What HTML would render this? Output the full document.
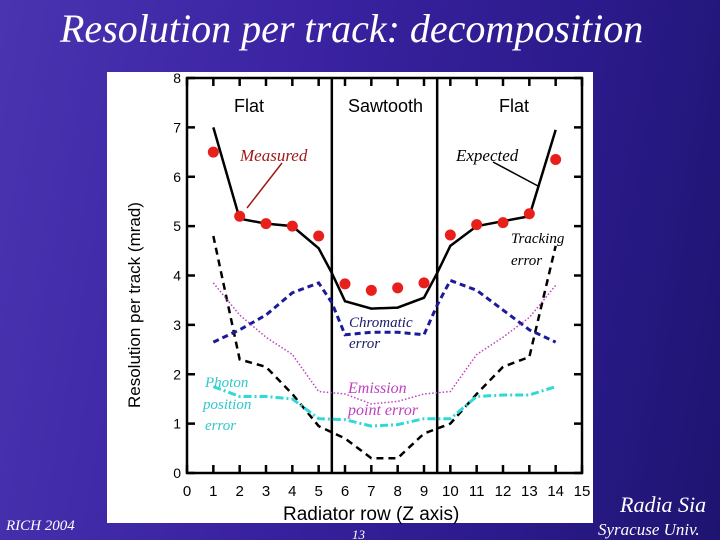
<!DOCTYPE html>
<html><head><meta charset="utf-8"><style>
html,body{margin:0;padding:0;width:720px;height:540px;overflow:hidden}
body{background:linear-gradient(100deg,#4a34b0 0%,#3a22a0 40%,#2a1a8a 75%,#1e1470 100%);position:relative;font-family:"Liberation Serif",serif}
.t{position:absolute;color:#fff;font-style:italic}
</style></head><body>
<div class="t" style="left:60px;top:5px;font-size:40px;">Resolution per track: decomposition</div>
<div class="t" style="left:6px;top:518px;font-size:15px;">RICH 2004</div>
<div class="t" style="left:352px;top:527px;font-size:13px;">13</div>
<div class="t" style="left:620px;top:492px;font-size:22px;">Radia Sia</div>
<div class="t" style="left:598px;top:520px;font-size:17px;">Syracuse Univ.</div>
<svg width="720" height="540" style="position:absolute;left:0;top:0">
<rect x="107" y="72" width="486" height="451" fill="#fff"/>
<g id="g"></g>
</svg>
<script>
const xs=[1,2,3,4,5,6,7,8,9,10,11,12,13,14];
const measured=[6.5,5.2,5.05,5.0,4.8,3.83,3.7,3.75,3.85,4.82,5.03,5.07,5.25,6.35];
const expX=[1,2,3,4,5,5.5,6,7,8,9,9.5,10,11,12,13,14];
const expected=[7.0,5.15,5.05,5.0,4.55,4.05,3.48,3.33,3.35,3.55,4.05,4.6,5.0,5.1,5.2,6.95];
const trackX=[1,2,3,4,5,6,7,8,9,10,11,12,13,14];
const tracking=[4.8,2.3,2.15,1.6,0.95,0.7,0.3,0.3,0.8,1.0,1.6,2.15,2.35,4.6];
const chromX=[1,2,3,4,5,5.5,6,7,8,9,9.5,10,11,12,13,14];
const chromatic=[2.65,2.9,3.2,3.65,3.85,3.45,2.8,2.85,2.85,2.8,3.4,3.9,3.7,3.3,2.9,2.65];
const emission=[3.85,3.2,2.75,2.4,1.65,1.6,1.4,1.45,1.6,1.65,2.4,2.75,3.15,3.8];
const photon=[1.75,1.55,1.55,1.5,1.1,1.08,0.95,0.98,1.1,1.1,1.55,1.58,1.58,1.75];
const xTicks=[0,1,2,3,4,5,6,7,8,9,10,11,12,13,14,15];
const yTicks=[0,1,2,3,4,5,6,7,8];
const dividers=[5.5,9.5];
const X0=187,X1=582,Y0=473,Y1=78;
const sx=v=>X0+(X1-X0)*v/15, sy=v=>Y0-(Y0-Y1)*v/8;
const g=document.getElementById('g');const NS='http://www.w3.org/2000/svg';
function mk(t,a,txt){const e=document.createElementNS(NS,t);for(const k in a)e.setAttribute(k,a[k]);if(txt!=null)e.textContent=txt;g.appendChild(e);return e;}
function line(xa,ya,col,w,dash,name){const d=xa.map((x,i)=>(i?'L':'M')+sx(x)+','+sy(ya[i])).join('');const e=mk('path',{d:d,fill:'none',stroke:col,'stroke-width':w,'stroke-dasharray':dash||'none'});

}
const fr=mk('rect',{x:X0,y:Y1,width:X1-X0,height:Y0-Y1,fill:'none',stroke:'#000','stroke-width':2.5});


xTicks.forEach(v=>{const x=sx(v);
 mk('line',{x1:x,x2:x,y1:Y0,y2:Y0-8,stroke:'#000','stroke-width':2.5});
 mk('line',{x1:x,x2:x,y1:Y1,y2:Y1+8,stroke:'#000','stroke-width':2.5});
 const t=mk('text',{x:x,y:Y0+23,'text-anchor':'middle','font-family':'Liberation Sans, sans-serif','font-size':15},v);
 
 });
yTicks.forEach(v=>{const y=sy(v);
 mk('line',{x1:X0,x2:X0+8,y1:y,y2:y,stroke:'#000','stroke-width':2.5});
 mk('line',{x1:X1,x2:X1-8,y1:y,y2:y,stroke:'#000','stroke-width':2.5});
 const t=mk('text',{x:X0-6,y:y+5,'text-anchor':'end','font-family':'Liberation Sans, sans-serif','font-size':14},v);
 
 });
dividers.forEach(v=>{const l=mk('line',{x1:sx(v),x2:sx(v),y1:Y0,y2:Y1,stroke:'#000','stroke-width':2.5});
 
 });
line(trackX,tracking,'#000',2.5,'7,5','tracking-error-line');
line(chromX,chromatic,'#1a1a9a',3,'6,4','chromatic-error-line');
line(xs,emission,'#c040c0',1.5,'1.5,2','emission-error-line');
line(xs,photon,'#30d8d8',3,'8,3,2,3','photon-error-line');
line(expX,expected,'#000',2.5,null,'expected-line');
xs.forEach((x,i)=>{const c=mk('circle',{cx:sx(x),cy:sy(measured[i]),r:5.5,fill:'#e8201c'});
 
 });
function lbl(x,y,s,txt,opt,name){const t=mk('text',Object.assign({x:x,y:y,'font-size':s},opt),txt);
 
 }
const sans={'font-family':'Liberation Sans, sans-serif'}, ser={'font-family':'Liberation Serif, serif','font-style':'italic'};
lbl(234,112,18,'Flat',sans,'region-label-flat-left');
lbl(348,112,18,'Sawtooth',sans,'region-label-sawtooth');
lbl(499,112,18,'Flat',sans,'region-label-flat-right');
lbl(240,161,17,'Measured',Object.assign({fill:'#a01818'},ser),'measured-label');
lbl(456,161,17,'Expected',ser,'expected-label');
lbl(511,243,15,'Tracking',ser,'tracking-label');
lbl(511,265,15,'error',ser,'tracking-label-2');
lbl(349,327,15,'Chromatic',Object.assign({fill:'#1a1a6a'},ser),'chromatic-label');
lbl(349,348,15,'error',Object.assign({fill:'#1a1a6a'},ser),'chromatic-label-2');
lbl(348,393,16,'Emission',Object.assign({fill:'#c040c0'},ser),'emission-label');
lbl(348,415,16,'point error',Object.assign({fill:'#c040c0'},ser),'emission-label-2');
lbl(205,387,15,'Photon',Object.assign({fill:'#30c8c8'},ser),'photon-label');
lbl(203,409,15,'position',Object.assign({fill:'#30c8c8'},ser),'photon-label-2');
lbl(205,430,15,'error',Object.assign({fill:'#30c8c8'},ser),'photon-label-3');
const a1=mk('path',{d:'M282,163 L247,208',stroke:'#a01818','stroke-width':1.5,fill:'none'});


const a2=mk('path',{d:'M493,162 L538,186',stroke:'#000','stroke-width':1.5,fill:'none'});


lbl(0,0,17,'Resolution per track (mrad)',Object.assign({transform:'translate(140,408) rotate(-90)'},sans),'y-axis-title');
lbl(283,520,19,'Radiator row (Z axis)',sans,'x-axis-title');
</script>
</body></html>
